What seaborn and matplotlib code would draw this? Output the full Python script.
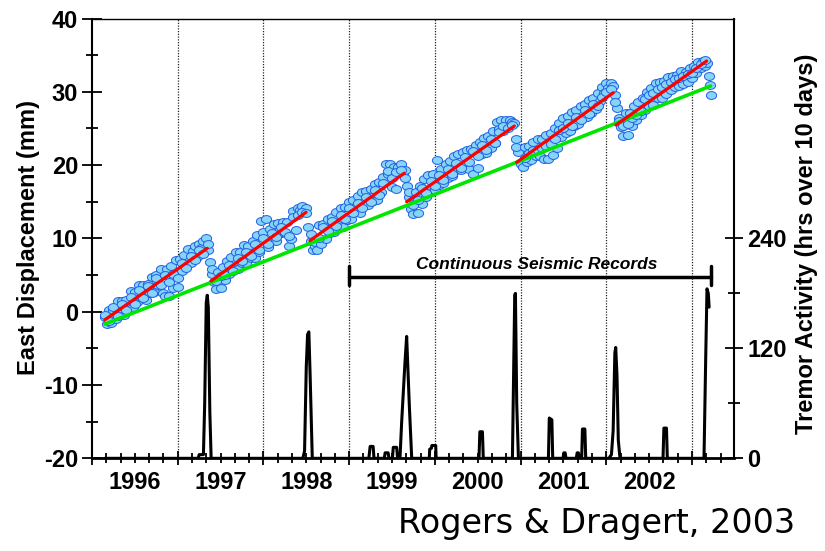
import numpy as np
import pandas as pd
import seaborn as sns
import matplotlib.pyplot as plt
from matplotlib.markers import MarkerStyle
from matplotlib.transforms import Affine2D
from matplotlib.ticker import MultipleLocator, FixedLocator

# GPS east displacement (mm), one list per slow-slip cycle
seg1_year = [1996.150, 1996.175, 1996.200, 1996.225, 1996.250, 1996.275, 1996.300, 1996.325,
             1996.350, 1996.375, 1996.400, 1996.425, 1996.450, 1996.475, 1996.500, 1996.525,
             1996.550, 1996.575, 1996.600, 1996.625, 1996.650, 1996.675, 1996.700, 1996.725,
             1996.750, 1996.775, 1996.800, 1996.825, 1996.850, 1996.875, 1996.900, 1996.925,
             1996.950, 1996.975, 1997.000, 1997.025, 1997.050, 1997.075, 1997.100, 1997.125,
             1997.150, 1997.175, 1997.200, 1997.225, 1997.250, 1997.275, 1997.300, 1997.325,
             1997.350, 1997.375, 1997.400, 1997.425]
seg1_east = [-0.7, -1.7, 0.3, -1.6, 0.3, -1.0, 1.4, -0.3, 1.5, -0.5, 1.6, 0.6, 2.8, 0.6, 2.7, 1.3,
             3.7, 2.0, 3.7, 1.6, 3.8, 2.6, 4.8, 2.7, 5.0, 3.7, 5.8, 2.6, 2.1, 5.8, 2.2, 6.3,
             3.2, 7.0, 3.4, 7.2, 5.6, 7.8, 6.3, 8.5, 6.6, 8.3, 8.9, 7.5, 9.2, 8.7, 9.7, 10.0,
             8.4, 6.8, 5.2, 4.0]
seg1b_year = [1996.150, 1996.200, 1996.250, 1996.300, 1996.350, 1996.400, 1996.450, 1996.500,
              1996.550, 1996.600, 1996.650, 1996.700, 1996.750, 1996.800, 1996.850, 1996.900,
              1996.950, 1997.000, 1997.050, 1997.100, 1997.150, 1997.200, 1997.250, 1997.300,
              1997.350, 1997.400]
seg1b_east = [-0.4, -1.2, 0.7, -0.6, 1.0, 0.2, 2.0, 1.1, 2.9, 1.9, 3.5, 2.6, 4.6, 3.6, 5.0, 4.1,
              5.2, 4.6, 6.6, 6.0, 7.6, 7.0, 8.4, 7.9, 9.2, 5.8]

seg2_year = [1997.450, 1997.475, 1997.500, 1997.525, 1997.550, 1997.575, 1997.600, 1997.625,
             1997.650, 1997.675, 1997.700, 1997.725, 1997.750, 1997.775, 1997.800, 1997.825,
             1997.850, 1997.875, 1997.900, 1997.925, 1997.950, 1997.975, 1998.000, 1998.025,
             1998.050, 1998.075, 1998.100, 1998.125, 1998.150, 1998.175, 1998.200, 1998.225,
             1998.250, 1998.275, 1998.300, 1998.325, 1998.350, 1998.375, 1998.400, 1998.425,
             1998.450, 1998.475, 1998.500, 1998.525, 1998.550, 1998.575, 1998.600]
seg2_east = [3.1, 5.4, 3.3, 6.1, 4.3, 6.9, 5.1, 7.5, 5.9, 8.1, 5.8, 8.2, 6.6, 9.1, 6.6, 8.9,
             7.3, 9.7, 7.3, 10.4, 8.2, 12.4, 10.9, 12.6, 8.8, 11.3, 9.6, 11.9, 9.7, 12.1, 10.7, 12.3,
             10.8, 12.3, 8.9, 9.9, 13.8, 11.1, 14.2, 13.9, 14.4, 13.8, 14.2, 11.5, 9.6, 8.4, 9.0]
seg2b_year = [1997.450, 1997.500, 1997.550, 1997.600, 1997.650, 1997.700, 1997.750, 1997.800,
              1997.850, 1997.900, 1997.950, 1998.000, 1998.050, 1998.100, 1998.150, 1998.200,
              1998.250, 1998.300, 1998.350, 1998.400, 1998.450, 1998.500, 1998.550, 1998.600]
seg2b_east = [4.2, 4.9, 5.0, 6.4, 5.6, 7.3, 6.9, 8.2, 7.6, 9.2, 8.4, 10.0, 9.3, 10.8, 10.2, 11.6,
              10.9, 10.3, 12.9, 13.2, 13.6, 13.4, 10.6, 9.5]

seg3_year = [1998.625, 1998.650, 1998.675, 1998.700, 1998.725, 1998.750, 1998.775, 1998.800,
             1998.825, 1998.850, 1998.875, 1998.900, 1998.925, 1998.950, 1998.975, 1999.000,
             1999.025, 1999.050, 1999.075, 1999.100, 1999.125, 1999.150, 1999.175, 1999.200,
             1999.225, 1999.250, 1999.275, 1999.300, 1999.325, 1999.350, 1999.375, 1999.400,
             1999.425, 1999.450, 1999.475, 1999.500, 1999.525, 1999.550, 1999.575, 1999.600,
             1999.625, 1999.650, 1999.675, 1999.700, 1999.725]
seg3_east = [8.4, 11.8, 9.3, 11.9, 9.9, 12.6, 10.7, 12.9, 10.9, 13.6, 11.8, 14.2, 11.5, 14.3, 12.5,
             15.0, 12.7, 15.2, 13.6, 15.8, 13.5, 16.3, 14.5, 16.5, 14.5, 16.8, 15.1, 17.4, 15.2,
             17.7, 16.3, 18.4, 20.1, 18.8, 20.1, 17.0, 19.8, 16.8, 19.7, 20.1, 18.9, 19.3, 17.2,
             15.6, 14.0]
seg3b_year = [1998.650, 1998.700, 1998.750, 1998.800, 1998.850, 1998.900, 1998.950, 1999.000,
              1999.050, 1999.100, 1999.150, 1999.200, 1999.250, 1999.300, 1999.350, 1999.400,
              1999.450, 1999.500, 1999.550, 1999.600, 1999.650, 1999.700]
seg3b_east = [10.0, 11.6, 11.0, 12.4, 11.7, 13.2, 12.6, 14.1, 13.4, 14.9, 14.2, 15.7, 15.0, 16.6,
              15.9, 17.5, 19.2, 18.3, 19.0, 19.3, 18.2, 16.4]

seg4_year = [1999.750, 1999.775, 1999.800, 1999.825, 1999.850, 1999.875, 1999.900, 1999.925,
             1999.950, 1999.975, 2000.000, 2000.025, 2000.050, 2000.075, 2000.100, 2000.125,
             2000.150, 2000.175, 2000.200, 2000.225, 2000.250, 2000.275, 2000.300, 2000.325,
             2000.350, 2000.375, 2000.400, 2000.425, 2000.450, 2000.475, 2000.500, 2000.525,
             2000.550, 2000.575, 2000.600, 2000.625, 2000.650, 2000.675, 2000.700, 2000.725,
             2000.750, 2000.775, 2000.800, 2000.825, 2000.850, 2000.875, 2000.900, 2000.925,
             2000.950, 2000.975, 2001.000]
seg4_east = [13.3, 16.4, 13.5, 17.1, 14.7, 18.1, 15.7, 18.7, 16.4, 18.8,
             16.6, 20.7, 17.3, 19.5, 17.5, 20.2, 18.3, 20.5, 18.5, 21.2, 19.3, 21.5, 19.4, 21.8,
             20.0, 22.1, 19.5, 22.2, 18.8, 22.8, 19.6, 23.1, 21.5, 23.7, 21.7, 24.0, 22.4, 24.7,
             23.0, 25.9, 24.9, 26.2, 24.6, 26.1, 25.2, 26.1, 25.9, 25.7, 23.6, 21.8, 20.1]
seg4b_year = [1999.750, 1999.800, 1999.850, 1999.900, 1999.950, 2000.000, 2000.050, 2000.100,
              2000.150, 2000.200, 2000.250, 2000.300, 2000.350, 2000.400, 2000.450, 2000.500,
              2000.550, 2000.600, 2000.650, 2000.700, 2000.750, 2000.800, 2000.850, 2000.900,
              2000.950]
seg4b_east = [14.5, 15.2, 16.9, 16.2, 17.8, 17.2, 18.7, 18.0, 19.5, 18.8, 20.3, 19.6, 21.1, 20.4,
              21.9, 21.2, 22.8, 22.1, 23.6, 23.0, 24.5, 25.3, 25.0, 25.5, 22.5]

seg5_year = [2001.025, 2001.050, 2001.075, 2001.100, 2001.125, 2001.150, 2001.175, 2001.200,
             2001.225, 2001.250, 2001.275, 2001.300, 2001.325, 2001.350, 2001.375, 2001.400,
             2001.425, 2001.450, 2001.475, 2001.500, 2001.525, 2001.550, 2001.575, 2001.600,
             2001.625, 2001.650, 2001.675, 2001.700, 2001.725, 2001.750, 2001.775, 2001.800,
             2001.825, 2001.850, 2001.875, 2001.900, 2001.925, 2001.950, 2001.975, 2002.000,
             2002.025, 2002.050, 2002.075, 2002.100, 2002.125, 2002.150, 2002.175]
seg5_east = [19.8, 22.5, 20.4, 22.6, 20.7, 23.2, 21.2, 23.6, 21.2, 23.5, 20.8, 24.1, 20.9, 24.4,
             21.4, 25.0, 22.4, 25.8, 23.8, 26.4, 24.4, 26.7, 24.6, 27.3, 25.4, 27.5, 25.6, 28.1,
             26.4, 28.3, 26.5, 28.9, 27.1, 29.2, 27.7, 29.9, 28.8, 30.7, 29.8,
             31.2, 30.5, 31.2, 30.8, 29.6, 27.8, 26.4, 25.2]
seg5b_year = [2001.050, 2001.100, 2001.150, 2001.200, 2001.250, 2001.300, 2001.350, 2001.400,
              2001.450, 2001.500, 2001.550, 2001.600, 2001.650, 2001.700, 2001.750, 2001.800,
              2001.850, 2001.900, 2001.950, 2002.000, 2002.050, 2002.100, 2002.150]
seg5b_east = [21.0, 21.6, 22.1, 22.0, 22.3, 22.6, 22.9, 23.6, 24.8, 25.1, 25.8, 25.4, 26.6, 26.2,
              27.5, 27.0, 28.3, 28.0, 29.3, 30.0, 30.4, 28.6, 26.0]

seg6_year = [2002.200, 2002.225, 2002.250, 2002.275, 2002.300, 2002.325, 2002.350, 2002.375,
             2002.400, 2002.425, 2002.450, 2002.475, 2002.500, 2002.525, 2002.550, 2002.575,
             2002.600, 2002.625, 2002.650, 2002.675, 2002.700, 2002.725, 2002.750, 2002.775,
             2002.800, 2002.825, 2002.850, 2002.875, 2002.900, 2002.925, 2002.950, 2002.975,
             2003.000, 2003.025, 2003.050, 2003.075, 2003.100, 2003.125, 2003.150, 2003.175,
             2003.200, 2003.210, 2003.220]
seg6_east = [24.0, 27.1, 24.1, 27.1, 25.4, 28.0, 26.2, 28.6, 26.8, 29.1, 27.5, 30.0, 28.1, 30.5,
             28.2, 31.2, 29.1, 31.3, 29.2, 31.5, 29.7, 32.0, 30.3, 32.1, 30.6, 32.3, 30.8, 32.8,
             31.0, 32.7, 31.3, 33.2, 31.9, 33.5, 32.5, 34.0, 33.2, 34.2, 33.5, 33.9,
             32.2, 30.9, 29.6]
seg6b_year = [2002.200, 2002.250, 2002.300, 2002.350, 2002.400, 2002.450, 2002.500, 2002.550,
              2002.600, 2002.650, 2002.700, 2002.750, 2002.800, 2002.850, 2002.900, 2002.950,
              2003.000, 2003.050, 2003.100, 2003.150]
seg6b_east = [25.3, 25.6, 26.4, 26.9, 27.4, 29.0, 29.5, 29.9, 30.4, 30.6, 31.0, 31.4, 31.7, 31.9,
              32.2, 32.4, 32.6, 33.2, 33.8, 34.4]

# red inter-event trends (start/end of each segment)
trend_start_year = [1996.15, 1997.39, 1998.543, 1999.671, 2000.954, 2002.113]
trend_end_year = [1997.345, 1998.497, 1999.643, 2000.927, 2002.082, 2003.171]
trend_start_east = [-1.1, 4.2, 9.7, 15.0, 20.38, 25.47]
trend_end_east = [8.65, 13.56, 18.9, 25.33, 29.88, 34.2]

# green long-term trend
longterm_year = [1996.152, 2003.217]
longterm_east = [-1.68, 30.79]

# tremor activity (hrs over 10 days)
tremor_year = [1996.15, 1997.24, 1997.25, 1997.30, 1997.315, 1997.333, 1997.345, 1997.357, 1997.375, 1997.39,
               1998.46, 1998.48, 1998.50, 1998.515, 1998.53, 1998.545, 1998.57,
               1999.23, 1999.245, 1999.28, 1999.29,
               1999.41, 1999.42, 1999.455, 1999.465,
               1999.505, 1999.515, 1999.555, 1999.565,
               1999.593, 1999.613, 1999.651, 1999.671, 1999.702, 1999.73,
               1999.935, 1999.94, 1999.96, 1999.965, 2000.01, 2000.015,
               2000.515, 2000.525, 2000.555, 2000.565,
               2000.905, 2000.92, 2000.932, 2000.94, 2000.955, 2000.975,
               2001.325, 2001.335, 2001.365, 2001.375,
               2001.495, 2001.505, 2001.52, 2001.53,
               2001.65, 2001.66, 2001.675, 2001.685,
               2001.713, 2001.722, 2001.75, 2001.76,
               2002.03, 2002.06, 2002.08, 2002.10, 2002.11, 2002.125, 2002.14, 2002.16,
               2002.662, 2002.672, 2002.702, 2002.712,
               2003.14, 2003.16, 2003.175, 2003.19, 2003.20]
tremor_hours = [0, 0, 4, 4, 60, 170, 178, 165, 50, 0,
                0, 8, 100, 135, 138, 90, 0,
                0, 13, 13, 0,
                0, 6, 6, 0,
                0, 12, 12, 0,
                0, 40, 104, 133, 58, 0,
                0, 10, 11, 14, 14, 0,
                0, 29, 29, 0,
                0, 100, 178, 180, 60, 0,
                0, 44, 42, 0,
                0, 6, 6, 0,
                0, 6, 6, 0,
                0, 32, 32, 0,
                0, 4, 30, 115, 121, 90, 20, 0,
                0, 33, 33, 0,
                0, 110, 185, 180, 165]

year_labels = [1996, 1997, 1998, 1999, 2000, 2001, 2002]
seismic_start, seismic_end, seismic_level = 1999.0, 2003.22, 4.8

gps = pd.DataFrame({
    'year': (seg1_year + seg1b_year + seg2_year + seg2b_year + seg3_year + seg3b_year
             + seg4_year + seg4b_year + seg5_year + seg5b_year + seg6_year + seg6b_year),
    'east': (seg1_east + seg1b_east + seg2_east + seg2b_east + seg3_east + seg3b_east
             + seg4_east + seg4b_east + seg5_east + seg5b_east + seg6_east + seg6b_east),
})
trend = pd.DataFrame({
    'year': trend_start_year + trend_end_year,
    'east': trend_start_east + trend_end_east,
    'seg': list(range(6)) + list(range(6)),
})

sns.set_style('ticks')
plt.rcParams['font.family'] = ['Liberation Sans', 'DejaVu Sans']
plt.rcParams['font.weight'] = 'bold'
plt.rcParams['axes.unicode_minus'] = False
for key in ('text.color', 'axes.labelcolor', 'xtick.color', 'ytick.color', 'axes.edgecolor'):
    plt.rcParams[key] = 'black'

fig = plt.figure(figsize=(8.25, 5.51), dpi=100)
ax = fig.add_axes([0.1115, 0.1682, 0.7782, 0.7982])

for yr in range(1997, 2004):
    ax.axvline(yr, color='0.15', lw=0.9, ls=(0, (1, 1.2)), zorder=0.5)

ellipse = MarkerStyle('o', transform=Affine2D().scale(1.3, 1.0))
sns.scatterplot(data=gps, x='year', y='east', ax=ax, marker=ellipse, s=32,
                color='#86d4f7', edgecolor='#2060e4', linewidth=0.7, zorder=2)
sns.lineplot(x=longterm_year, y=longterm_east, ax=ax, color='#00e600', lw=2.6, zorder=3)
sns.lineplot(data=trend, x='year', y='east', units='seg', estimator=None, ax=ax,
             color='#ff0000', lw=2.3, zorder=4)

# continuous seismic records bracket
ax.plot([seismic_start, seismic_end], [seismic_level, seismic_level], color='k', lw=2.5, zorder=5)
for xe in (seismic_start, seismic_end):
    ax.plot([xe, xe], [seismic_level + 1.45, seismic_level - 1.15], color='k', lw=2.5, zorder=5)
ax.text((seismic_start + seismic_end) / 2 + 0.08, seismic_level + 1.0, 'Continuous Seismic Records',
        ha='center', va='baseline', fontsize=12.5, fontweight='bold', style='italic')

ax.set_xlim(1996.0, 2003.49)
ax.set_ylim(-20, 40)
ax.xaxis.set_major_locator(MultipleLocator(1))
ax.xaxis.set_minor_locator(MultipleLocator(1 / 6))
ax.yaxis.set_major_locator(MultipleLocator(10))
ax.yaxis.set_minor_locator(MultipleLocator(5))
ax.set_xlabel('')
ax.set_ylabel('East Displacement (mm)', fontsize=17, fontweight='bold')
ax.yaxis.set_label_coords(-0.081, 0.501)
ax.tick_params(axis='y', which='major', direction='inout', length=14, width=1.3, labelsize=17, pad=3)
ax.tick_params(axis='y', which='minor', direction='inout', length=8, width=1.3)
ax.tick_params(axis='x', which='major', direction='inout', length=10, width=1.3, labelbottom=False)
ax.tick_params(axis='x', which='minor', direction='inout', length=7, width=1.3)
ax.spines['right'].set_visible(False)
ax.spines['left'].set_linewidth(1.5)
ax.spines['bottom'].set_linewidth(2.0)
ax.spines['top'].set_linewidth(1.0)

sec = ax.secondary_xaxis('bottom')
sec.set_xticks([y + 0.5 for y in year_labels], labels=[str(y) for y in year_labels])
sec.tick_params(length=0, pad=9, labelsize=17)
sec.spines['bottom'].set_visible(False)

ax2 = ax.twinx()
sns.lineplot(x=tremor_year, y=tremor_hours, ax=ax2, estimator=None, sort=False,
             color='k', lw=2.2)
ax2.set_ylim(0, 480)
ax2.yaxis.set_major_locator(FixedLocator([0, 120, 240]))
ax2.yaxis.set_minor_locator(FixedLocator([60, 180]))
ax2.set_ylabel('Tremor Activity (hrs over 10 days)', fontsize=17, fontweight='bold')
ax2.yaxis.set_label_coords(1.095, 0.487)
ax2.tick_params(axis='y', which='major', direction='inout', length=13, width=1.3, labelsize=17, pad=3)
ax2.tick_params(axis='y', which='minor', direction='inout', length=8, width=1.3)
for side in ('left', 'top', 'bottom'):
    ax2.spines[side].set_visible(False)
ax2.spines['right'].set_linewidth(1.5)

fig.text(398 / 825, 1 - 533 / 551, 'Rogers & Dragert, 2003', fontsize=24,
         fontweight='normal', family='DejaVu Sans', color='black', ha='left', va='baseline')

fig.savefig('out.png', dpi=100)
